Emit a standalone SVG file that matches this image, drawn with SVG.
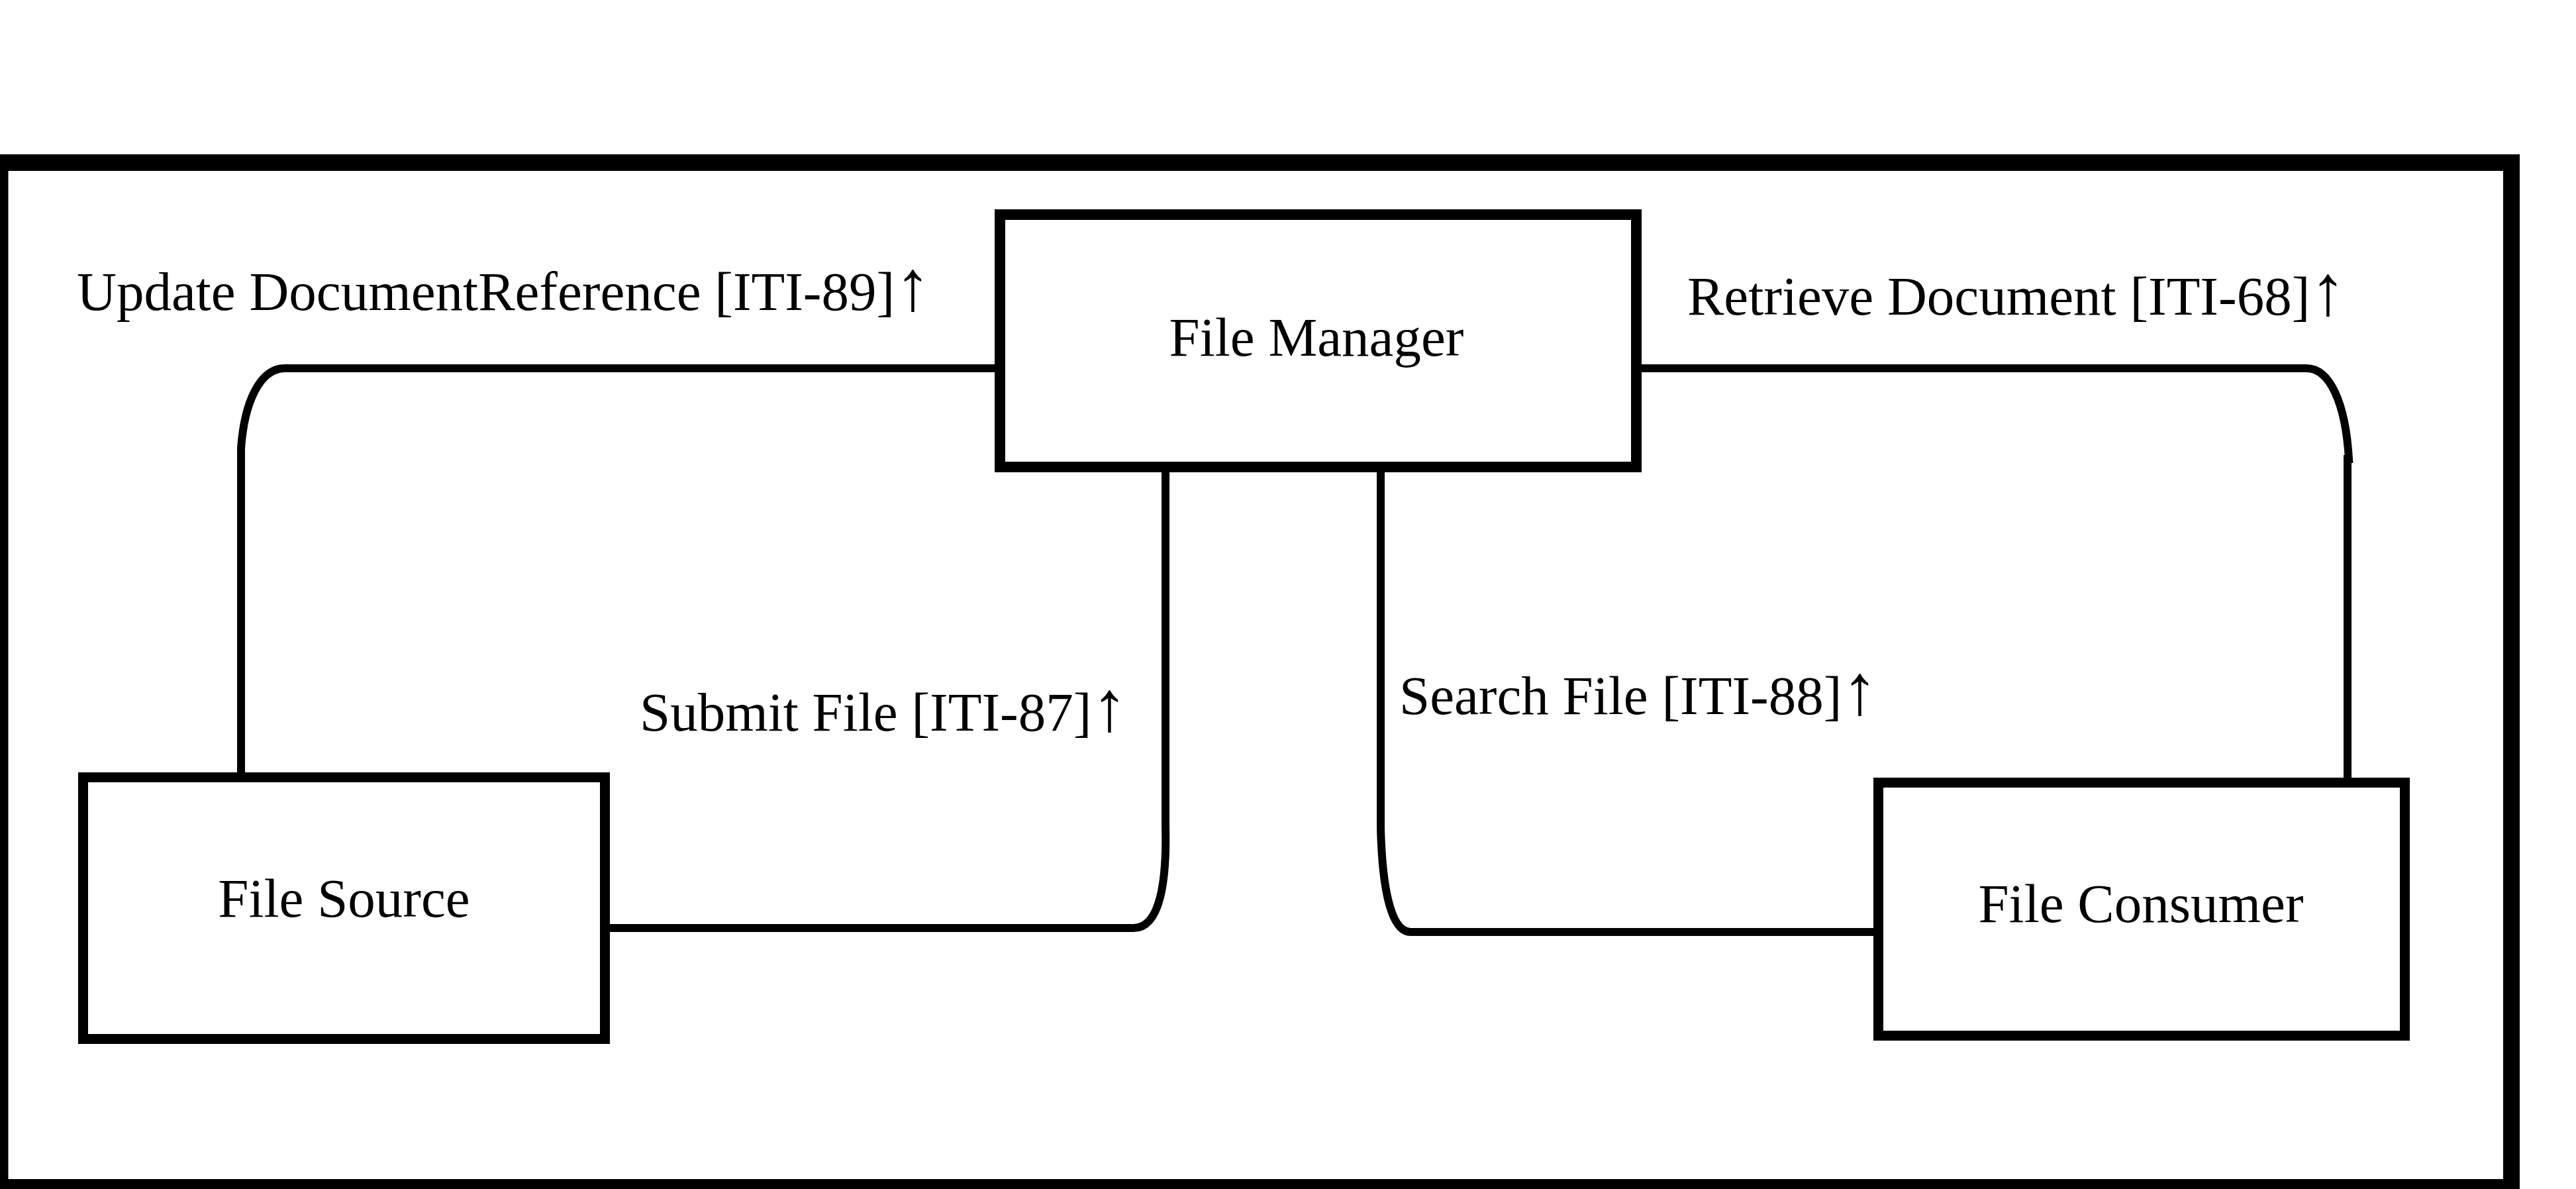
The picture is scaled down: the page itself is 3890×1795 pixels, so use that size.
<svg xmlns="http://www.w3.org/2000/svg" width="3890" height="1795" viewBox="0 0 3890 1795">
<style>
.frame{fill:none;stroke:#000;stroke-width:25}
.box{fill:#fff;stroke:#000;stroke-width:16}
.conn{fill:none;stroke:#000;stroke-width:12}
.lbl{font-family:"Liberation Serif","Times New Roman",serif;font-size:83px;fill:#000}
.arr{font-size:108px}
.name{font-family:"Liberation Serif","Times New Roman",serif;font-size:83px;fill:#000;text-anchor:middle}
</style>
<rect x="0" y="0" width="3890" height="1795" fill="#fff"/>
<rect class="frame" x="0" y="245.5" width="3792.5" height="1547"/>
<g id="connectors">
<path class="conn" d="M1502 556 H430 C393 556 369 606 364 677 V1166"/>
<path class="conn" d="M2479 556 H3483 C3518 556 3542 608 3547 693 L3545 693 V1174"/>
<path class="conn" d="M1760 713 V1248 C1762 1330 1752 1401 1712 1401 H921"/>
<path class="conn" d="M2085 713 V1250 C2087 1330 2098 1407 2130 1407 H2829"/>
</g>
<g id="labels">
<text class="lbl" x="116" y="468">Update DocumentReference [ITI-89]<tspan class="arr">↑</tspan></text>
<text class="lbl" x="2548" y="475">Retrieve Document [ITI-68]<tspan class="arr">↑</tspan></text>
<text class="lbl" x="966" y="1103">Submit File [ITI-87]<tspan class="arr">↑</tspan></text>
<text class="lbl" x="2113" y="1078">Search File [ITI-88]<tspan class="arr">↑</tspan></text>
</g>
<g id="file-manager">
<rect class="box" x="1510" y="324" width="961" height="381"/>
<text class="name" x="1988" y="537">File Manager</text>
</g>
<g id="file-source">
<rect class="box" x="125.5" y="1173.5" width="788" height="395" style="stroke-width:15"/>
<text class="name" x="519.5" y="1384">File Source</text>
</g>
<g id="file-consumer">
<rect class="box" x="2836.5" y="1181.5" width="795" height="382" style="stroke-width:15"/>
<text class="name" x="3233" y="1392">File Consumer</text>
</g>
</svg>
